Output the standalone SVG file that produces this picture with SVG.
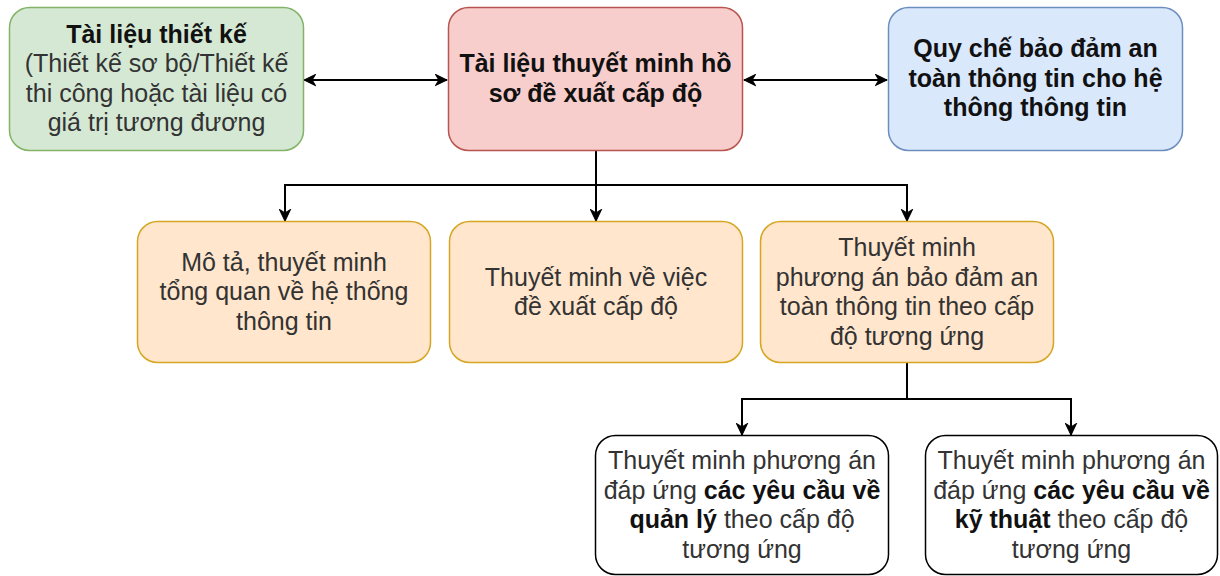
<svg xmlns="http://www.w3.org/2000/svg" width="1220" height="576" viewBox="0 0 1220 576">
<defs>
<marker id="arr" viewBox="0 0 12 12" refX="11" refY="6" markerWidth="13" markerHeight="13" markerUnits="userSpaceOnUse" orient="auto-start-reverse">
<path d="M0.5,1 L11,6 L0.5,11 L3.5,6 Z" fill="#000" stroke="#000" stroke-width="1"/>
</marker>
</defs>
<style>
.box{stroke-width:1.5}
.g{fill:#d5e8d4;stroke:#82b366}
.r{fill:#f8cecc;stroke:#b85450}
.b{fill:#dae8fc;stroke:#6c8ebf}
.o{fill:#ffe6cc;stroke:#d6a623}
.w{fill:#ffffff;stroke:#000000}
text{font-family:"Liberation Sans",Arial,sans-serif;font-size:25px;text-anchor:middle;fill:#333333}
.bd{font-weight:bold;fill:#111111}
.edge{fill:none;stroke:#000;stroke-width:2}
</style>
<g id="connectors">
<path class="edge" d="M304,80 L447,80" marker-start="url(#arr)" marker-end="url(#arr)"/>
<path class="edge" d="M744,80 L887,80" marker-start="url(#arr)" marker-end="url(#arr)"/>
<path class="edge" d="M596,151 L596,221" marker-end="url(#arr)"/>
<path class="edge" d="M596,151 L596,185 L285,185 L285,221" marker-end="url(#arr)"/>
<path class="edge" d="M596,151 L596,185 L907,185 L907,221" marker-end="url(#arr)"/>
<path class="edge" d="M907,363 L907,399 L742,399 L742,435" marker-end="url(#arr)"/>
<path class="edge" d="M907,363 L907,399 L1071,399 L1071,435" marker-end="url(#arr)"/>
</g>
<g id="node-design-docs">
<rect class="box g" x="9.5" y="7.5" width="294" height="143" rx="20"/>
<text x="156.5" y="42.6"><tspan class="bd">Tài liệu thiết kế</tspan></text>
<text x="156.5" y="72.1">(Thiết kế sơ bộ/Thiết kế</text>
<text x="156.5" y="101.6">thi công hoặc tài liệu có</text>
<text x="156.5" y="131.1">giá trị tương đương</text>
</g>
<g id="node-explanation">
<rect class="box r" x="448.5" y="7.5" width="294" height="143" rx="20"/>
<text x="595.5" y="72.2" class="bd">Tài liệu thuyết minh hồ</text>
<text x="595.5" y="101.7" class="bd">sơ đề xuất cấp độ</text>
</g>
<g id="node-regulation">
<rect class="box b" x="888.5" y="7.5" width="294" height="143" rx="20"/>
<text x="1035.5" y="57.4" class="bd">Quy chế bảo đảm an</text>
<text x="1035.5" y="86.9" class="bd">toàn thông tin cho hệ</text>
<text x="1035.5" y="116.4" class="bd">thông thông tin</text>
</g>
<g id="node-overview">
<rect class="box o" x="137.5" y="221.5" width="293" height="141" rx="20"/>
<text x="284" y="270.9">Mô tả, thuyết minh</text>
<text x="284" y="300.4">tổng quan về hệ thống</text>
<text x="284" y="329.9">thông tin</text>
</g>
<g id="node-level-proposal">
<rect class="box o" x="449.5" y="221.5" width="293" height="141" rx="20"/>
<text x="596" y="285.7">Thuyết minh về việc</text>
<text x="596" y="315.2">đề xuất cấp độ</text>
</g>
<g id="node-security-plan">
<rect class="box o" x="760.5" y="221.5" width="293" height="141" rx="20"/>
<text x="907" y="256.1">Thuyết minh</text>
<text x="907" y="285.6">phương án bảo đảm an</text>
<text x="907" y="315.1">toàn thông tin theo cấp</text>
<text x="907" y="344.6">độ tương ứng</text>
</g>
<g id="node-management">
<rect class="box w" x="595.5" y="435.5" width="293" height="139" rx="20"/>
<text x="742" y="469.2">Thuyết minh phương án</text>
<text x="742" y="498.7">đáp ứng <tspan class="bd">các yêu cầu về</tspan></text>
<text x="742" y="528.2"><tspan class="bd">quản lý</tspan> theo cấp độ</text>
<text x="742" y="557.7">tương ứng</text>
</g>
<g id="node-technical">
<rect class="box w" x="925.5" y="435.5" width="292" height="139" rx="20"/>
<text x="1071.5" y="469.2">Thuyết minh phương án</text>
<text x="1071.5" y="498.7">đáp ứng <tspan class="bd">các yêu cầu về</tspan></text>
<text x="1071.5" y="528.2"><tspan class="bd">kỹ thuật</tspan> theo cấp độ</text>
<text x="1071.5" y="557.7">tương ứng</text>
</g>
</svg>
